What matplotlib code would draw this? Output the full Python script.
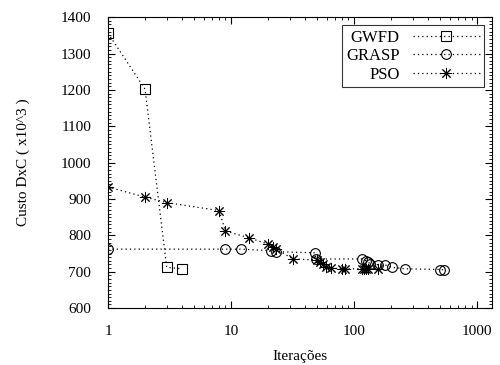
import matplotlib
matplotlib.use("Agg")
import matplotlib.pyplot as plt
from matplotlib.ticker import MultipleLocator, LogLocator, NullFormatter, FixedLocator

plt.rcParams['font.family'] = ['Liberation Serif', 'DejaVu Serif']

# dados
gwfd_x = [1, 2, 3, 4]
gwfd_y = [1356, 1202, 712, 708]

grasp_x = [1, 9, 12, 21, 23, 48, 49, 116, 125, 130, 134, 157, 178, 203, 259, 500, 540]
grasp_y = [762, 762, 762, 758, 755, 752, 735, 735, 730, 727, 722, 719, 719, 712, 708, 706, 705]

pso_x = [1, 2, 3, 8, 9, 14, 20, 22, 23, 32, 50, 53, 56, 59, 65, 80, 85, 115, 120, 125, 130, 155]
pso_y = [933, 905, 890, 868, 812, 793, 776, 768, 763, 735, 732, 727, 720, 713, 710, 708, 708, 708, 708, 708, 708, 708]

fig = plt.figure(figsize=(5, 3.65), dpi=100)
ax = fig.add_axes([0.216, 0.156, 0.768, 0.797])

dots = (0, (1, 2.5))
ax.plot(gwfd_x, gwfd_y, color='k', ls=dots, lw=0.9, marker='s', ms=6.5,
        mfc='none', mec='k', mew=0.8, label='GWFD')
ax.plot(grasp_x, grasp_y, color='k', ls=dots, lw=0.9, marker='o', ms=7,
        mfc='none', mec='k', mew=0.8, label='GRASP')
ax.plot(pso_x, pso_y, color='k', ls=dots, lw=0.9, marker=(8, 2, 0), ms=8,
        mec='k', mew=0.7, label='PSO')

ax.set_xscale('log')
ax.set_xlim(1, 1320)
ax.set_ylim(600, 1400)
ax.xaxis.set_major_locator(FixedLocator([1, 10, 100, 1000]))
ax.set_xticklabels(['1', '10', '100', '1000'])
ax.xaxis.set_minor_locator(LogLocator(base=10, subs=range(2, 10)))
ax.xaxis.set_minor_formatter(NullFormatter())
ax.yaxis.set_major_locator(MultipleLocator(100))
ax.yaxis.set_minor_locator(MultipleLocator(10))

ax.tick_params(which='both', direction='in', top=True, right=True, labelsize=11)
ax.tick_params(which='major', length=5)
ax.tick_params(which='minor', length=2.5)
ax.tick_params(axis='x', pad=12)
ax.tick_params(axis='y', pad=12)

ax.set_xlabel('Iterações', fontsize=11, labelpad=9)
ax.set_ylabel('Custo DxC ( x10^3 )', fontsize=11, labelpad=22)

leg = ax.legend(loc='upper right', markerfirst=False, fontsize=12,
                frameon=True, fancybox=False, handlelength=4,
                borderpad=0.25, labelspacing=0.15, handletextpad=0.8,
                borderaxespad=0.5)
leg.get_frame().set_edgecolor('k')
leg.get_frame().set_linewidth(0.8)
for t in leg.get_texts():
    t.set_ha('right')

fig.savefig('out.png', dpi=100)
